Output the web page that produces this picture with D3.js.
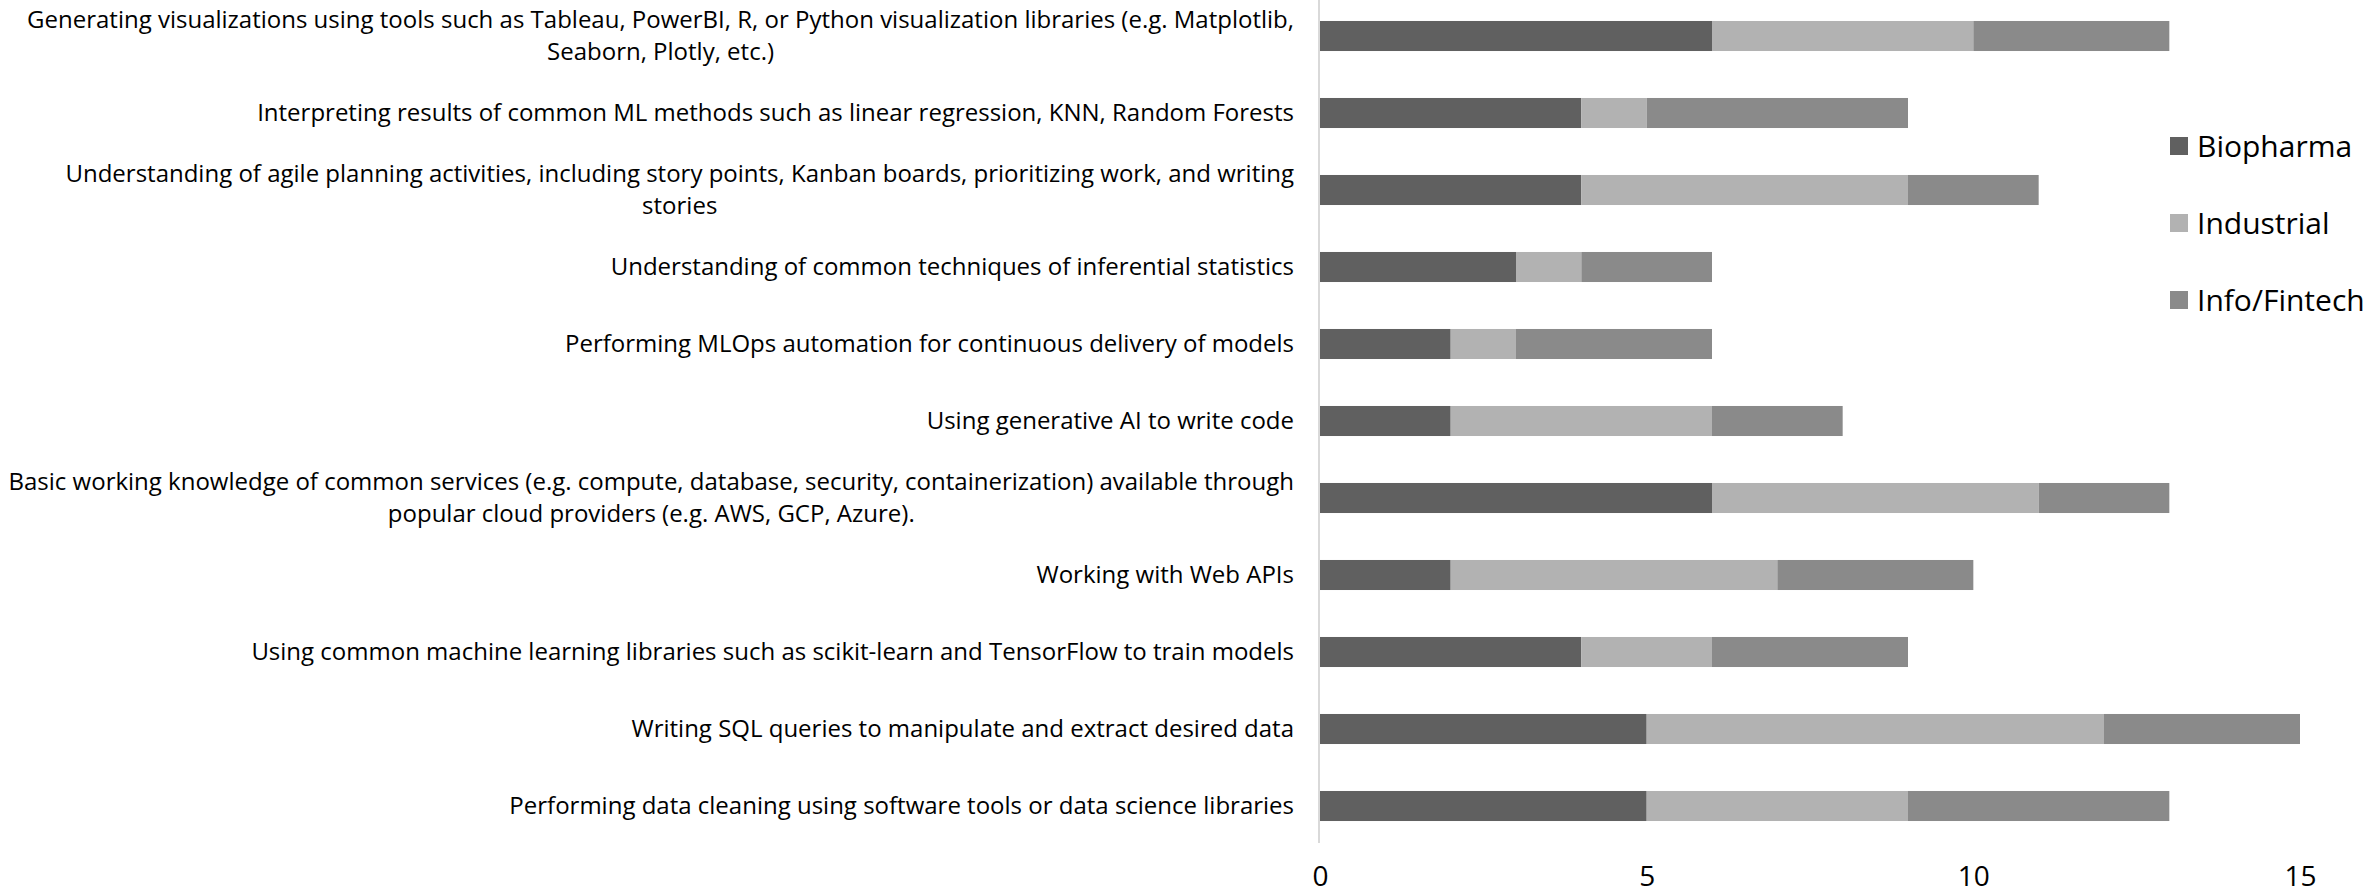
<!DOCTYPE html>
<html>
<head>
<meta charset="utf-8">
<script src="https://cdn.jsdelivr.net/npm/d3@7"></script>
<style>
  html, body { margin: 0; padding: 0; background: #ffffff; }
  svg { display: block; }
</style>
</head>
<body>
<script>
// ---- data ----
const categories = [
  ["Generating visualizations using tools such as Tableau, PowerBI, R, or Python visualization libraries (e.g. Matplotlib,", "Seaborn, Plotly, etc.)"],
  ["Interpreting results of common ML methods such as linear regression, KNN, Random Forests"],
  ["Understanding of agile planning activities, including story points, Kanban boards, prioritizing work, and writing", "stories"],
  ["Understanding of common techniques of inferential statistics"],
  ["Performing MLOps automation for continuous delivery of models"],
  ["Using generative AI to write code"],
  ["Basic working knowledge of common services (e.g. compute, database, security, containerization) available through", "popular cloud providers (e.g. AWS, GCP, Azure)."],
  ["Working with Web APIs"],
  ["Using common machine learning libraries such as scikit-learn and TensorFlow to train models"],
  ["Writing SQL queries to manipulate and extract desired data"],
  ["Performing data cleaning using software tools or data science libraries"]
];
const seriesNames = ["Biopharma", "Industrial", "Info/Fintech"];
const biopharma = [6, 4, 4, 3, 2, 2, 6, 2, 4, 5, 5];
const industrial = [4, 1, 5, 1, 1, 4, 5, 5, 2, 7, 4];
const infoFintech = [3, 4, 2, 2, 3, 2, 2, 3, 3, 3, 4];
const xTicks = [0, 5, 10, 15];
const colors = ["#606060", "#b2b2b2", "#8a8a8a"];

// ---- layout ----
const W = 2379, H = 895;
const FONT = "'Open Sans', 'DejaVu Sans', sans-serif";
const svg = d3.select("body").append("svg").attr("width", W).attr("height", H);

const x = d3.scaleLinear().domain([0, 15]).range([1320, 2300]);
const y = d3.scaleBand().domain(d3.range(categories.length)).range([-2.5, 844.5]).paddingInner(0.61).paddingOuter(0.305);

const rows = categories.map((c, i) => ({ i, Biopharma: biopharma[i], Industrial: industrial[i], "Info/Fintech": infoFintech[i] }));
const stacked = d3.stack().keys(seriesNames)(rows);

// bars
svg.append("g").selectAll("g").data(stacked).join("g")
  .attr("fill", (d, k) => colors[k])
  .selectAll("rect").data(d => d).join("rect")
  .attr("x", d => x(d[0]))
  .attr("width", d => x(d[1]) - x(d[0]))
  .attr("y", d => y(d.data.i))
  .attr("height", y.bandwidth());

// vertical axis line
svg.append("line").attr("x1", 1319).attr("x2", 1319).attr("y1", 0).attr("y2", 843)
  .attr("stroke", "#d9d9d9").attr("stroke-width", 2);

// x axis tick labels
const xAxis = d3.axisBottom(x).tickValues(xTicks).tickSize(0).tickPadding(0);
const gx = svg.append("g").attr("transform", "translate(0,866)").call(xAxis);
gx.select(".domain").remove();
gx.selectAll("text").attr("font-family", FONT).attr("font-size", 28).attr("fill", "#000").attr("dy", "0.71em");

// category labels: fit font size so the SQL label is ~675px wide
const probe = svg.append("text").attr("font-family", FONT).attr("font-size", 100).text(categories[9][0]);
const probeW = probe.node().getComputedTextLength();
probe.remove();
const labelSize = Math.min(24, 100 * 675 / probeW);
const lineGap = 32;
const rightEdge = 1294;

const lab = svg.append("g").attr("font-family", FONT).attr("font-size", labelSize).attr("fill", "#000");
categories.forEach((lines, i) => {
  const cy = y(i) + y.bandwidth() / 2;
  const g = lab.append("g");
  const texts = lines.map((ln, j) => g.append("text")
    .attr("y", cy + (j - (lines.length - 1) / 2) * lineGap)
    .attr("dy", "0.35em")
    .attr("text-anchor", "middle")
    .text(ln));
  const maxW = d3.max(texts, t => t.node().getComputedTextLength());
  texts.forEach(t => t.attr("x", rightEdge - maxW / 2));
});

// legend
const leg = svg.append("g").attr("font-family", FONT).attr("font-size", 30).attr("fill", "#000");
seriesNames.forEach((name, k) => {
  const cy = 146 + k * 77;
  leg.append("rect").attr("x", 2170).attr("y", cy - 9).attr("width", 18).attr("height", 18).attr("fill", colors[k]);
  leg.append("text").attr("x", 2197).attr("y", cy).attr("dy", "0.35em").text(name);
});
</script>
</body>
</html>
